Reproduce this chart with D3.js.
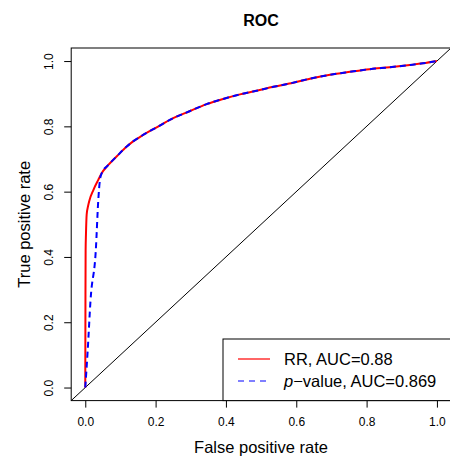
<!DOCTYPE html>
<html>
<head>
<meta charset="utf-8">
<script src="https://cdn.jsdelivr.net/npm/d3@7"></script>
<style>
  body { margin: 0; background: #fff; }
  text { font-family: "Liberation Sans", Arial, sans-serif; fill: #000; }
</style>
</head>
<body>
<div id="chart-container"></div>
<script>
// ROC curve points (false positive rate, true positive rate)
const rrFpr = [0, 0.0005, 0.001, 0.002, 0.004, 0.008, 0.012, 0.023, 0.037, 0.047, 0.065, 0.093, 0.118, 0.136, 0.156, 0.203, 0.25, 0.298, 0.345, 0.392, 0.44, 0.487, 0.535, 0.58, 0.639, 0.696, 0.753, 0.808, 0.866, 0.923, 0.96, 1];
const rrTpr = [0, 0.25, 0.42, 0.47, 0.53, 0.556, 0.574, 0.605, 0.636, 0.657, 0.681, 0.712, 0.738, 0.754, 0.768, 0.797, 0.825, 0.847, 0.868, 0.884, 0.898, 0.909, 0.921, 0.931, 0.946, 0.958, 0.967, 0.975, 0.981, 0.988, 0.993, 1];

const pvFpr = [0, 0.007, 0.015, 0.03, 0.037, 0.042, 0.047, 0.065, 0.093, 0.118, 0.136, 0.156, 0.203, 0.25, 0.298, 0.345, 0.392, 0.44, 0.487, 0.535, 0.58, 0.639, 0.696, 0.753, 0.808, 0.866, 0.923, 0.96, 1];
const pvTpr = [0, 0.115, 0.268, 0.421, 0.574, 0.638, 0.657, 0.681, 0.712, 0.738, 0.754, 0.768, 0.797, 0.825, 0.847, 0.868, 0.884, 0.898, 0.909, 0.921, 0.931, 0.946, 0.958, 0.967, 0.975, 0.981, 0.988, 0.993, 1];

const ticks = [0, 0.2, 0.4, 0.6, 0.8, 1.0];
const legendLabels = ["RR, AUC=0.88", "value, AUC=0.869"];

const svgWidth = 450;
const svgHeight = 457;
const box = { left: 71.2, right: 451, top: 48, bottom: 400.6 };

const xScale = d3.scaleLinear().domain([-0.04, 1.04]).range([box.left, box.right]);
const yScale = d3.scaleLinear().domain([-0.04, 1.04]).range([box.bottom, box.top]);

const svg = d3.select("#chart-container")
  .append("svg")
  .attr("width", svgWidth)
  .attr("height", svgHeight);

svg.append("clipPath").attr("id", "plot-clip")
  .append("rect")
  .attr("x", box.left).attr("y", box.top)
  .attr("width", box.right - box.left).attr("height", box.bottom - box.top);

// diagonal reference line
svg.append("line")
  .attr("clip-path", "url(#plot-clip)")
  .attr("x1", xScale(-0.04)).attr("y1", yScale(-0.04))
  .attr("x2", xScale(1.04)).attr("y2", yScale(1.04))
  .attr("stroke", "#000").attr("stroke-width", 1);

const line = d3.line()
  .x(d => xScale(d[0]))
  .y(d => yScale(d[1]))
  .curve(d3.curveMonotoneX);

svg.append("path")
  .datum(d3.zip(rrFpr, rrTpr))
  .attr("d", line)
  .attr("fill", "none")
  .attr("stroke", "#ff0000")
  .attr("stroke-width", 2);

svg.append("path")
  .datum(d3.zip(pvFpr, pvTpr))
  .attr("d", line)
  .attr("fill", "none")
  .attr("stroke", "#0000ff")
  .attr("stroke-width", 2)
  .attr("stroke-dasharray", "6,4");

// axes
const xAxis = svg.append("g")
  .attr("transform", `translate(0,${box.bottom})`)
  .call(d3.axisBottom(xScale).tickValues(ticks).tickFormat(d3.format(".1f"))
    .tickSize(7).tickSizeOuter(0).tickPadding(10));
xAxis.selectAll("text").style("font-size", "12px");

const yAxis = svg.append("g")
  .attr("transform", `translate(${box.left},0)`)
  .call(d3.axisLeft(yScale).tickValues(ticks).tickFormat(d3.format(".1f"))
    .tickSize(7).tickSizeOuter(0));
yAxis.selectAll("text")
  .attr("transform", "rotate(-90)")
  .attr("x", 0).attr("y", -18.2).attr("dy", null)
  .attr("text-anchor", "middle")
  .style("font-size", "12px");

svg.selectAll(".domain").remove();
svg.selectAll(".tick line").attr("stroke", "#000");

// plot box
svg.append("rect")
  .attr("x", box.left).attr("y", box.top)
  .attr("width", box.right - box.left).attr("height", box.bottom - box.top)
  .attr("fill", "none").attr("stroke", "#000").attr("stroke-width", 1);

// titles
svg.append("text")
  .attr("x", 261).attr("y", 26)
  .attr("text-anchor", "middle")
  .style("font-size", "16px").style("font-weight", "bold")
  .text("ROC");

svg.append("text")
  .attr("x", 261).attr("y", 453)
  .attr("text-anchor", "middle")
  .style("font-size", "16.5px")
  .text("False positive rate");

svg.append("text")
  .attr("transform", "translate(30,224.3) rotate(-90)")
  .attr("text-anchor", "middle")
  .style("font-size", "16.5px")
  .text("True positive rate");

// legend
svg.append("rect")
  .attr("x", 223).attr("y", 339)
  .attr("width", 240).attr("height", box.bottom - 339)
  .attr("fill", "#fff").attr("stroke", "#000").attr("stroke-width", 1);

svg.append("line")
  .attr("x1", 238).attr("x2", 270).attr("y1", 359).attr("y2", 359)
  .attr("stroke", "#ff0000").attr("stroke-width", 1.2);
svg.append("line")
  .attr("x1", 238).attr("x2", 270).attr("y1", 381).attr("y2", 381)
  .attr("stroke", "#0000ff").attr("stroke-width", 1.2)
  .attr("stroke-dasharray", "6,5");

svg.append("text")
  .attr("x", 284).attr("y", 365)
  .style("font-size", "16.5px")
  .text(legendLabels[0]);

const t2 = svg.append("text")
  .attr("x", 284).attr("y", 387)
  .style("font-size", "16.5px");
t2.append("tspan").style("font-style", "italic").text("p");
t2.append("tspan").text("\u2212" + legendLabels[1]);
</script>
</body>
</html>
